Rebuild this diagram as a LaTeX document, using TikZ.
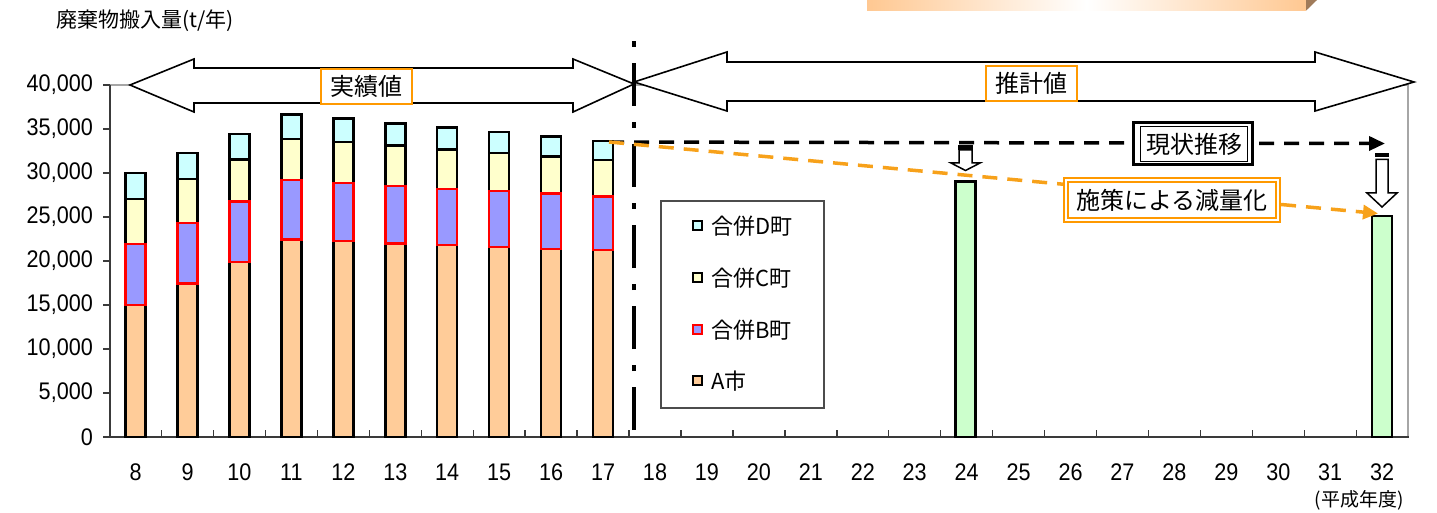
\documentclass[tikz,border=0pt]{standalone}
\usepackage{fontspec}
\setmainfont{Liberation Sans}
\newfontfamily\cjk{Noto Sans CJK JP}
\newfontfamily\numf[FakeStretch=0.9]{Liberation Sans}
\usetikzlibrary{arrows.meta,calc}
\definecolor{cA}{HTML}{FFCC99}
\definecolor{cB}{HTML}{9999FF}
\definecolor{cC}{HTML}{FFFFCC}
\definecolor{cD}{HTML}{CCFFFF}
\definecolor{cG}{HTML}{CCFFCC}
\definecolor{orng}{HTML}{F7A11A}
\definecolor{boxor}{HTML}{FF9900}
\definecolor{axisc}{HTML}{3A3A3A}
\definecolor{peach}{HTML}{FFC892}
\definecolor{bevel}{HTML}{A07B5A}
\tikzset{
  blk/.style={draw=black, line width=2.4pt},
  redb/.style={draw=red, line width=2.4pt},
  numlab/.style={font=\numf\fontsize{24}{28}\selectfont, inner sep=0pt},
  jlab/.style={font=\cjk\fontsize{24}{28}\selectfont},
  legtxt/.style={font=\cjk\fontsize{22}{26}\selectfont, anchor=west, inner sep=0pt},
  legsq/.style={line width=1.7pt, minimum size=8.8pt, inner sep=0pt},
  hollow/.style={draw=black, fill=white, line width=1.5pt},
  bigarrow/.style={draw=black, fill=white, line width=1.6pt, line join=miter},
  dashblk/.style={line width=3.5pt, dash pattern=on 15pt off 10pt, -{Triangle[length=16pt,width=14pt]}},
  dashorg/.style={draw=orng, line width=3.5pt, dash pattern=on 15pt off 10pt, -{Triangle[length=15pt,width=14pt]}, orng}
}
\begin{document}
\begin{tikzpicture}[x=1pt,y=-1pt]
\useasboundingbox (0,0) rectangle (1437,513);
% top gradient strip
\shade[left color=peach, right color=peach, middle color=white] (867,0) rectangle (1306,10.7);
\fill[bevel] (1306,0) -- (1317,0) -- (1306,10.7) -- cycle;
% plot frame
\draw[gray!70, line width=2pt] (110,85) -- (1408,85) -- (1408,437);
\draw[axisc, line width=2pt] (110,85) -- (110,437);
\foreach \v/\lab in {85/{40,000},129/{35,000},173/{30,000},217/{25,000},261/{20,000},305/{15,000},349/{10,000},393/{5,000},437/{0}} {
  \draw[axisc, line width=1.5pt] (103,\v) -- (110,\v);
  \node[numlab, anchor=east] (y\v) at (93,\v) {\lab};
}
\foreach \i in {9,...,32} {
  \pgfmathsetmacro\bx{135.6+51.94*(\i-8)-25.97}
  \draw[axisc, line width=1.4pt] (\bx,437) -- (\bx,430);
}
\draw[axisc, line width=2.6pt] (108,437) -- (1409,437);
% x labels
\foreach \i in {8,...,32} {
  \pgfmathsetmacro\cx{135.6+51.94*(\i-8)}
  \node[numlab] (x\i) at (\cx,472) {\i};
}
\node[font=\cjk\fontsize{19}{22}\selectfont, inner sep=0pt] (unit) at (1359,500) {(平成年度)};
\node[font=\cjk\fontsize{21}{24}\selectfont, anchor=west, inner sep=0pt] (title) at (56,21) {廃棄物搬入量(t/年)};
% stacked bars
\foreach \i/\a/\b/\c/\d in {8/305.0/243.7/199.3/173.0, 9/283.4/222.7/179.3/153.3, 10/261.7/201.7/159.4/134.0,
  11/239.3/180.0/139.0/114.7, 12/240.7/183.3/142.3/118.7, 13/243.3/186.0/145.7/123.7, 14/245.0/189.0/149.7/127.7,
  15/246.7/191.0/153.0/132.0, 16/248.7/193.7/156.7/136.7, 17/250.0/196.7/160.3/141.3} {
  \pgfmathsetmacro\cx{135.6+51.94*(\i-8)}
  \draw[blk, fill=cA] ({\cx-10},437) rectangle ({\cx+10},\a);
  \draw[blk, fill=cC] ({\cx-10},\b) rectangle ({\cx+10},\c);
  \draw[blk, fill=cD] ({\cx-10},\c) rectangle ({\cx+10},\d);
  \draw[redb, fill=cB] ({\cx-10},\a) rectangle ({\cx+10},\b);
}
% green bars
\draw[blk, fill=cG] (955.5,437) rectangle (975.5,181.7);
\draw[blk, fill=cG] (1372,437) rectangle (1392,216);
\coordinate (b17) at (609,142);
\coordinate (nowend) at (1385,143.5);
\coordinate (g32) at (1378,213.5);
% big double arrows
\draw[bigarrow] (130,85) -- (194,59) -- (194,68) -- (573,68) -- (573,59) -- (634,84) -- (573,112) -- (573,103) -- (194,103) -- (194,112) -- cycle;
\draw[bigarrow] (634,82) -- (727,52) -- (727,62) -- (1315,62) -- (1315,52) -- (1414,82) -- (1315,111) -- (1315,101) -- (727,101) -- (727,111) -- cycle;
% dash-dot divider
\draw[black, line width=4.5pt, dash pattern=on 43pt off 16pt on 6pt off 16pt] (634,430) -- (634,40);
% period labels
\node[jlab, draw=boxor, line width=1.3pt, fill=white, minimum width=91pt, minimum height=35pt, inner sep=0pt] (jis) at (366.5,86.5) {実績値};
\node[jlab, draw=boxor, line width=1.3pt, fill=white, minimum width=91pt, minimum height=35pt, inner sep=0pt] (sui) at (1031.5,83.5) {推計値};
% trend arrows
\draw[dashblk] (b17) -- (nowend);
\draw[dashorg] (b17) -- (g32);
% trend labels
\node[fill=white, draw=black, line width=3pt, minimum width=119pt, minimum height=42pt, inner sep=0pt] (gframe) at (1193,143.5) {};
\node[jlab, draw=black, line width=1.4pt, minimum width=106.5pt, minimum height=34.5pt, inner sep=0pt] (genjo) at (1194,144) {現状推移};
\node[jlab, draw=boxor, fill=white, line width=1.8pt, double=white, double distance=2pt, minimum width=212.5pt, minimum height=40pt, inner sep=0pt] (shisaku) at (1172,200.3) {施策による減量化};
% striped down arrows
\fill[black] (958,145.5) rectangle (973,150);
\draw[hollow] (959,150) -- (972,150) -- (972,163) -- (980,163) -- (965.5,170.5) -- (951,163) -- (959,163) -- cycle;
\fill[black] (1375,152.7) rectangle (1389,156.7);
\draw[hollow] (1376,159.5) -- (1388,159.5) -- (1388,193) -- (1397,193) -- (1382,207) -- (1367,193) -- (1376,193) -- cycle;
% legend
\node[draw=black!70, line width=1.2pt, fill=white, minimum width=163pt, minimum height=207pt, inner sep=0pt] (legend) at (742.5,304.5) {};
\node[legsq, draw=black, fill=cD] (ldsq) at (697.5,225.5) {};
\node[legtxt] (ld) at (711,226) {合併D町};
\node[legsq, draw=black, fill=cC] (lcsq) at (697.5,277.5) {};
\node[legtxt] (lc) at (711,278) {合併C町};
\node[legsq, draw=red, fill=cB] (lbsq) at (697.5,329.5) {};
\node[legtxt] (lb) at (711,330) {合併B町};
\node[legsq, draw=black, fill=cA] (lasq) at (697.5,380.5) {};
\node[legtxt] (la) at (711,381) {A市};
\end{tikzpicture}
\end{document}
